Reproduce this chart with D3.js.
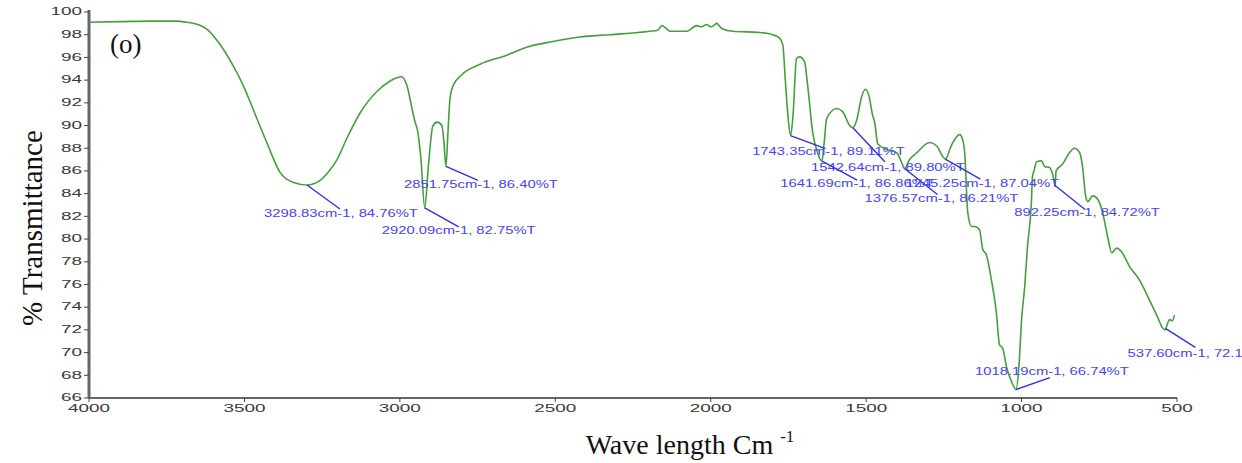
<!DOCTYPE html>
<html>
<head>
<meta charset="utf-8">
<script src="https://cdn.jsdelivr.net/npm/d3@7"></script>
<style>
  html, body { margin: 0; padding: 0; background: #fff; }
  #chart { width: 1242px; height: 463px; overflow: hidden; }
</style>
</head>
<body>
<div id="chart"></div>
<script>
// FTIR spectrum (wavenumber cm-1, % transmittance)
const wavenumbers = [
  4000, 3900, 3800, 3720, 3685, 3650, 3621, 3580, 3537, 3500, 3473, 3428, 3386, 3344, 3299,
  3260, 3230, 3202, 3170, 3128, 3074, 3032, 3010, 2995, 2977, 2961, 2952, 2942, 2932, 2920, 2908,
  2894, 2880, 2865, 2858, 2852, 2845, 2839, 2829, 2800, 2742, 2656, 2592, 2508, 2421, 2325,
  2196, 2170, 2157, 2145, 2131, 2077, 2045, 2030, 2013, 2000, 1990, 1981, 1970, 1961, 1929,
  1842, 1800, 1778, 1768, 1760, 1752, 1743, 1735, 1724, 1714, 1698, 1688, 1672, 1655, 1642,
  1635, 1627, 1595, 1575, 1553, 1543, 1530, 1515, 1502, 1490, 1480, 1472, 1463, 1434, 1402,
  1385, 1377, 1360, 1337, 1296, 1273, 1254, 1245, 1225, 1199, 1190, 1183, 1173, 1161, 1151,
  1135, 1125, 1113, 1097, 1081, 1071, 1061, 1048, 1030, 1018, 1008, 1000, 990, 981, 968,
  965, 960, 952, 936, 926, 910, 900, 892, 889, 868, 846, 830, 813, 804, 794,
  787, 771, 755, 739, 723, 710, 694, 679, 653, 621, 588, 562, 547, 538, 530,
  524, 515, 508
];
const transmittance = [
  99.1, 99.15, 99.2, 99.2, 99.1, 98.9, 98.5, 97.2, 95.3, 93.3, 91.5, 88.5, 85.9, 85.0, 84.76,
  85.1, 85.9, 87.0, 88.9, 91.1, 93.0, 93.9, 94.2, 94.3, 93.5, 91.5, 90.4, 89.4, 87.0, 82.75, 86.5,
  89.95, 90.3, 90.0, 88.5, 86.4, 89.5, 92.3, 93.5, 94.5, 95.4, 96.2, 96.9, 97.4, 97.8, 98.0,
  98.3, 98.4, 98.8, 98.6, 98.3, 98.3, 98.8, 98.7, 98.9, 98.7, 98.8, 99.0, 98.7, 98.5, 98.3,
  98.2, 98.0, 97.7, 97.1, 94.0, 91.0, 89.11, 91.0, 95.9, 96.05, 95.6, 93.5, 89.4, 87.5, 86.86,
  88.5, 90.6, 91.5, 91.2, 90.0, 89.8, 90.5, 92.5, 93.2, 92.5, 91.0, 90.2, 88.4, 87.9, 87.6,
  86.7, 86.21, 87.0, 87.6, 88.5, 88.2, 87.3, 87.04, 88.3, 89.2, 88.8, 87.6, 82.3, 81.1, 81.1,
  80.8, 79.1, 78.6, 76.4, 73.5, 70.7, 70.4, 68.7, 67.3, 66.74, 69.0, 72.9, 75.8, 79.3, 83.5,
  85.5, 86.0, 86.8, 86.9, 86.4, 86.3, 85.7, 84.72, 86.0, 86.6, 87.6, 88.0, 87.6, 86.4, 83.8,
  83.3, 83.8, 83.5, 82.3, 80.2, 78.8, 79.2, 78.9, 77.6, 76.4, 74.6, 73.1, 72.2, 72.0, 72.6,
  72.9, 72.8, 73.3
];

// peak picks printed on the chart
const peakWavenumbers = [3298.83, 2920.09, 2851.75, 1743.35, 1542.64, 1641.69, 1376.57, 1245.25, 892.25, 1018.19, 537.60];
const peakValues = [84.76, 82.75, 86.40, 89.11, 89.80, 86.86, 86.21, 87.04, 84.72, 66.74, 72.14];

// leader line end (px from the peak) and label centre (px from the line end)
const labelOffsets = [
  [33, 24, 1, 5], [34, 19, 0, 5], [32, 14, 3, 5], [35, 13, 3, 4], [32, 34, 3, 7], [35, 19, 0, 4],
  [33, 26, 4, 5], [35, 20, 2, 5], [30, 24, 2, 4], [34, -12, 2, -5], [30, 19, 5, 7]
];

const yTicks = d3.range(66, 101, 2);
const xTicks = [4000, 3500, 3000, 2500, 2000, 1500, 1000, 500];

const width = 1242, height = 463;
const margin = { top: 12, right: 65, bottom: 65, left: 89 };

const svg = d3.select("#chart").append("svg")
  .attr("width", width)
  .attr("height", height)
  .attr("viewBox", `0 0 ${width} ${height}`);

const x = d3.scaleLinear().domain([4000, 500]).range([margin.left, width - margin.right]);
const y = d3.scaleLinear().domain([66, 100]).range([height - margin.bottom, margin.top]);

// stretched sans text, the source figure is squeezed vertically
function wideText(g, px, py, str, size, sx, fill, anchor) {
  return g.append("text")
    .attr("transform", `translate(${px},${py}) scale(${sx},1)`)
    .attr("text-anchor", anchor || "middle")
    .attr("dominant-baseline", "middle")
    .attr("font-family", "Liberation Sans, Arial, sans-serif")
    .attr("font-size", size)
    .attr("fill", fill)
    .text(str);
}

// axes
const axisG = svg.append("g");
axisG.append("line")
  .attr("x1", x(4000)).attr("x2", x(500))
  .attr("y1", y(66)).attr("y2", y(66))
  .attr("stroke", "#333").attr("stroke-width", 1.3);
axisG.append("line")
  .attr("x1", x(4000)).attr("x2", x(4000))
  .attr("y1", y(66)).attr("y2", y(100) - 2)
  .attr("stroke", "#666").attr("stroke-width", 3);

yTicks.forEach(t => {
  axisG.append("line")
    .attr("x1", x(4000) - 5).attr("x2", x(4000))
    .attr("y1", y(t)).attr("y2", y(t))
    .attr("stroke", "#444").attr("stroke-width", 1);
  wideText(axisG, x(4000) - 7, y(t) + 0.5, t, 10.5, 1.8, "#3a3a3a", "end");
});

xTicks.forEach(t => {
  axisG.append("line")
    .attr("x1", x(t)).attr("x2", x(t))
    .attr("y1", y(66)).attr("y2", y(66) + 4)
    .attr("stroke", "#444").attr("stroke-width", 1);
  wideText(axisG, x(t), y(66) + 11, t, 10.5, 1.8, "#3a3a3a", "middle");
});

// spectrum
const spectrum = wavenumbers.map((w, i) => ({ w, t: transmittance[i] }));
const line = d3.line()
  .x(d => x(d.w))
  .y(d => y(d.t))
  .curve(d3.curveMonotoneX);

svg.append("path")
  .datum(spectrum)
  .attr("fill", "none")
  .attr("stroke", "#45a03c")
  .attr("stroke-width", 1.6)
  .attr("stroke-linejoin", "round")
  .attr("d", line);

// peak annotations
const annG = svg.append("g");
peakWavenumbers.forEach((w, i) => {
  const [ldx, ldy, tdx, tdy] = labelOffsets[i];
  const px = x(w), py = y(peakValues[i]);
  annG.append("line")
    .attr("x1", px).attr("y1", py)
    .attr("x2", px + ldx).attr("y2", py + ldy)
    .attr("stroke", "#2f2ff0").attr("stroke-width", 1.4);
  wideText(annG, px + ldx + tdx, py + ldy + tdy,
    `${w.toFixed(2)}cm-1, ${peakValues[i].toFixed(2)}%T`, 10, 1.48, "#4545f5", "middle");
});

// panel letter
svg.append("text")
  .attr("x", 110).attr("y", 53)
  .attr("font-family", "Liberation Serif, Times New Roman, serif")
  .attr("font-size", 27)
  .attr("fill", "#111")
  .text("(o)");

// axis titles
svg.append("text")
  .attr("transform", `translate(42,228) rotate(-90)`)
  .attr("text-anchor", "middle")
  .attr("font-family", "Liberation Serif, Times New Roman, serif")
  .attr("font-size", 29)
  .attr("fill", "#111")
  .text("% Transmittance");

const xt = svg.append("text")
  .attr("x", 690).attr("y", 454)
  .attr("text-anchor", "middle")
  .attr("font-family", "Liberation Serif, Times New Roman, serif")
  .attr("font-size", 28)
  .attr("fill", "#111");
xt.append("tspan").text("Wave length Cm ");
xt.append("tspan").attr("font-size", 17).attr("dy", -12).text("-1");
</script>
</body>
</html>
